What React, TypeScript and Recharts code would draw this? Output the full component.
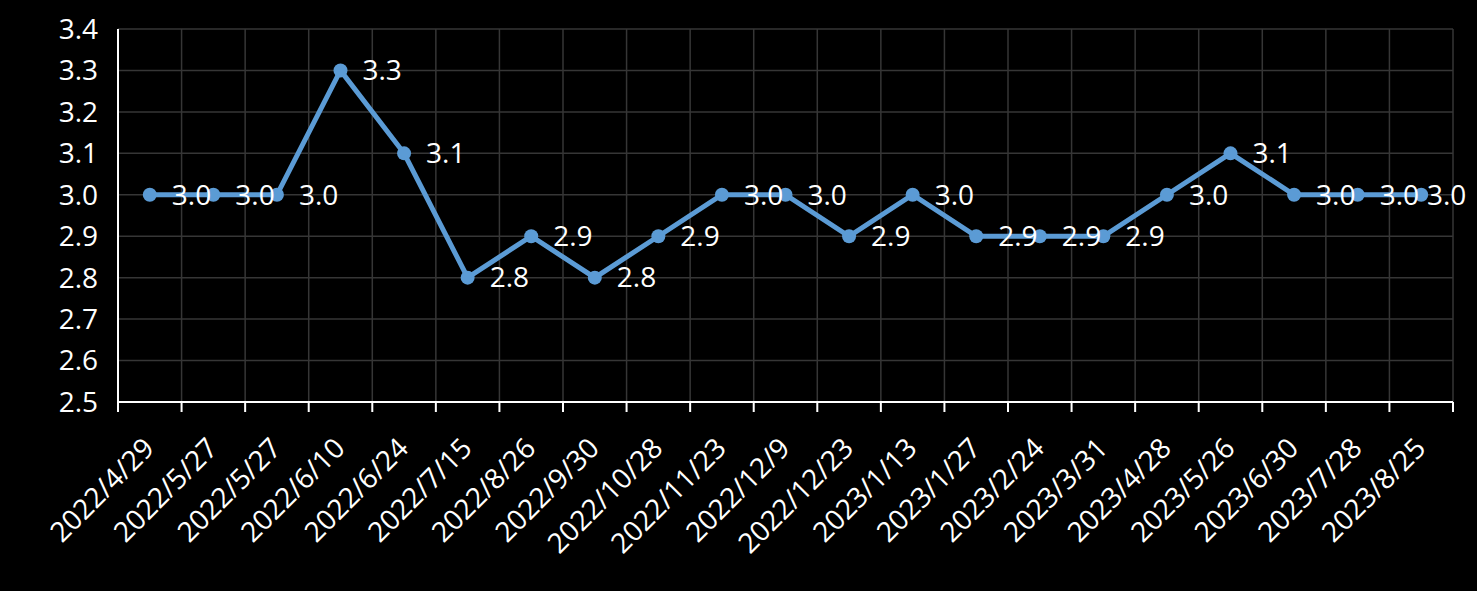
import { LineChart, Line, XAxis, YAxis, CartesianGrid } from 'recharts';

const dates = [
  '2022/4/29', '2022/5/27', '2022/5/27', '2022/6/10', '2022/6/24', '2022/7/15',
  '2022/8/26', '2022/9/30', '2022/10/28', '2022/11/23', '2022/12/9', '2022/12/23',
  '2023/1/13', '2023/1/27', '2023/2/24', '2023/3/31', '2023/4/28', '2023/5/26',
  '2023/6/30', '2023/7/28', '2023/8/25',
];

const rates = [
  3.0, 3.0, 3.0, 3.3, 3.1, 2.8, 2.9, 2.8, 2.9, 3.0, 3.0,
  2.9, 3.0, 2.9, 2.9, 2.9, 3.0, 3.1, 3.0, 3.0, 3.0,
];

const yTicks = [2.5, 2.6, 2.7, 2.8, 2.9, 3.0, 3.1, 3.2, 3.3, 3.4];

const W = 1477;
const H = 591;
const LEFT = 118;
const RIGHT = 24;
const BAND = (W - LEFT - RIGHT) / dates.length;
const FONT = '"Open Sans", "Noto Sans", sans-serif';
const LABEL_W = 38;

const chartData = dates.map((d, i) => ({ pos: i + 0.5, date: d, rate: rates[i] }));
const boundaries = dates.map((_, i) => i).concat(dates.length);

function DateTick({ x, y, payload }: any) {
  const label = dates[payload.value];
  if (!label) return <g />;
  const cx = x + BAND / 2 + 6;
  const cy = y + 36;
  return (
    <text
      x={cx}
      y={cy}
      transform={`rotate(-45 ${cx} ${cy})`}
      textAnchor="end"
      fill="#fff"
      fontSize={28}
      fontFamily={FONT}
    >
      {label}
    </text>
  );
}

// labels sit right of the point; pushed left when they would leave the chart
function PointLabel({ x, y, value }: any) {
  const tx = Math.min(x + 22, W - 12 - LABEL_W);
  return (
    <text x={tx} y={y} dy="0.35em" fill="#fff" fontSize={28} fontFamily={FONT}>
      {Number(value).toFixed(1)}
    </text>
  );
}

export default function App() {
  return (
    <div style={{ position: 'absolute', left: 0, top: 0, width: W, height: H, background: '#000' }}>
      <LineChart width={W} height={H} data={chartData} margin={{ top: 29, right: RIGHT, left: 0, bottom: 0 }}>
        <CartesianGrid stroke="#363636" strokeWidth={1.5} />
        <XAxis
          dataKey="pos"
          type="number"
          domain={[0, dates.length]}
          ticks={boundaries}
          interval={0}
          height={189}
          axisLine={{ stroke: '#fff', strokeWidth: 2 }}
          tickLine={{ stroke: '#fff', strokeWidth: 2 }}
          tickSize={10}
          tick={<DateTick />}
        />
        <YAxis
          domain={[2.5, 3.4]}
          ticks={yTicks}
          interval={0}
          width={LEFT}
          axisLine={{ stroke: '#fff', strokeWidth: 2 }}
          tickLine={false}
          tickMargin={14}
          tickFormatter={(v: number) => v.toFixed(1)}
          tick={{ fill: '#fff', fontSize: 28, fontFamily: FONT }}
        />
        <Line
          dataKey="rate"
          type="linear"
          stroke="#5b9bd5"
          strokeWidth={5}
          dot={{ r: 7, fill: '#5b9bd5', stroke: '#5b9bd5', strokeWidth: 0 }}
          label={<PointLabel />}
          isAnimationActive={false}
        />
      </LineChart>
    </div>
  );
}
